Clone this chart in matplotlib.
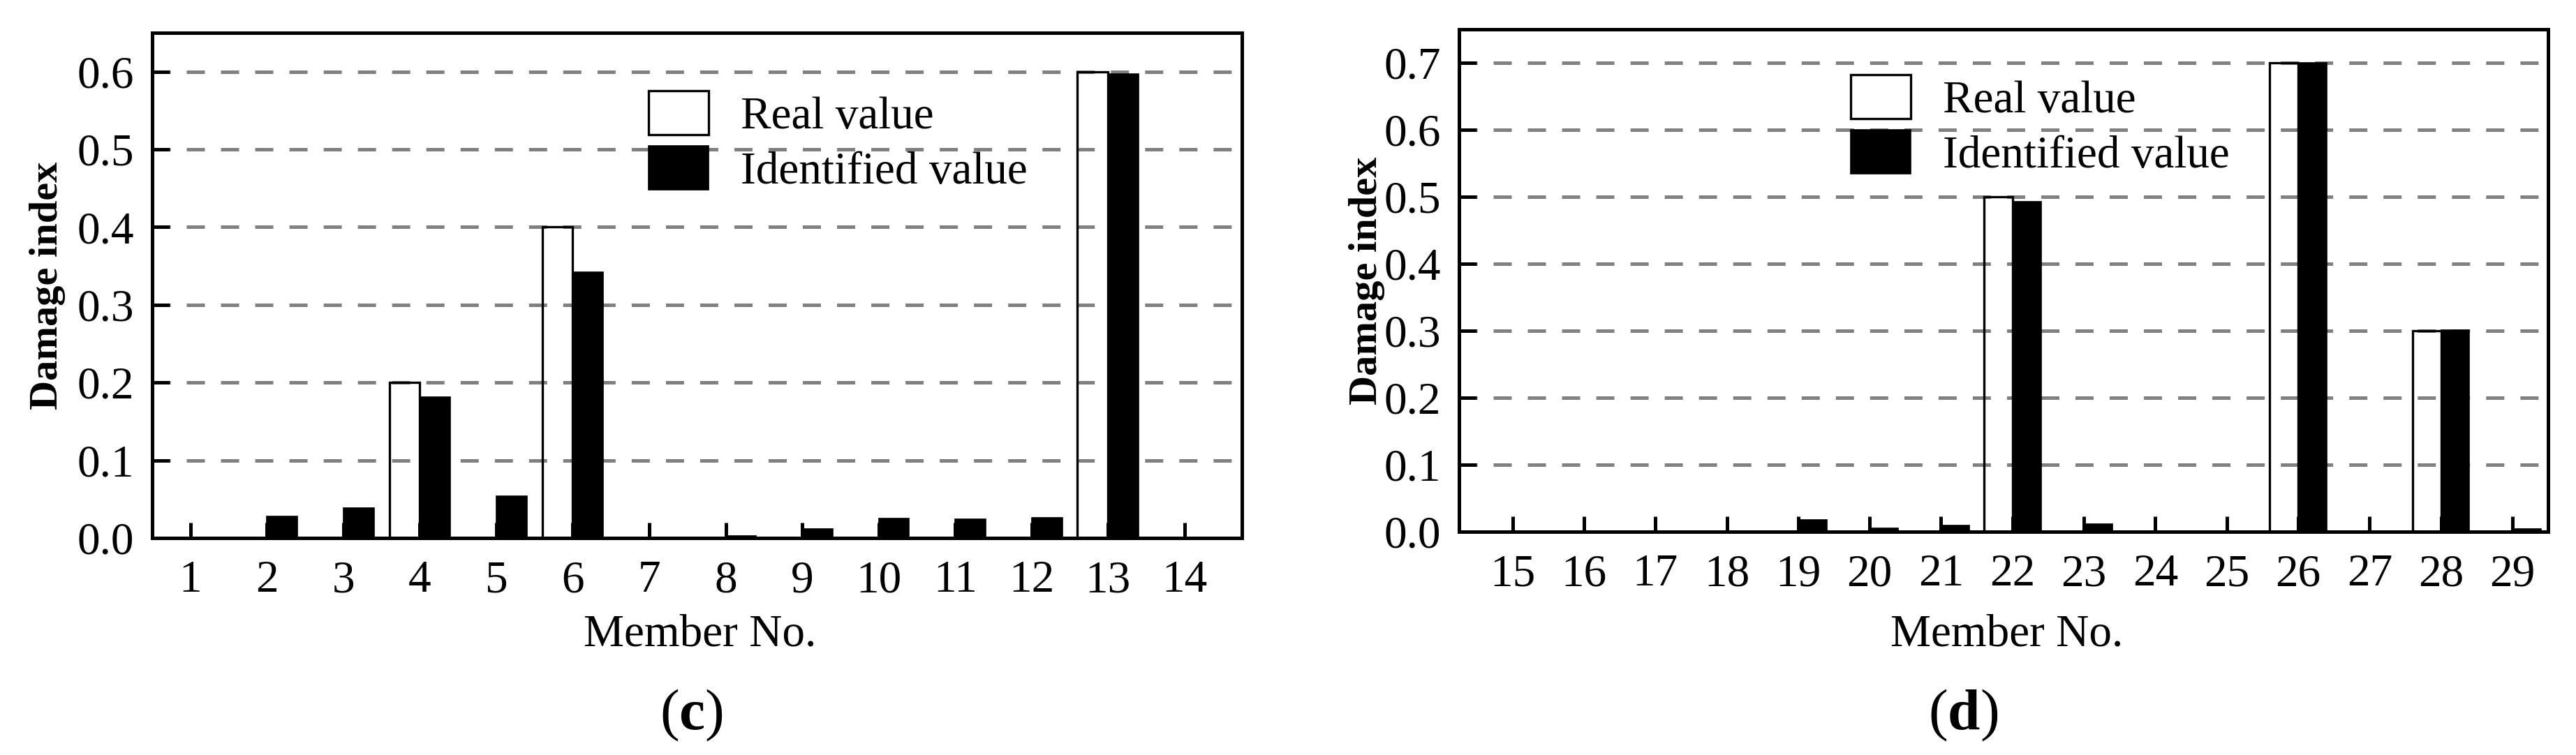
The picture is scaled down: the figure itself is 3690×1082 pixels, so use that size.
import matplotlib
matplotlib.use('Agg')
import matplotlib.pyplot as plt
import numpy as np

plt.rcParams['font.family'] = ['Liberation Serif', 'DejaVu Serif']
plt.rcParams['mathtext.fontset'] = 'custom'
plt.rcParams['mathtext.rm'] = 'Liberation Serif'
plt.rcParams['mathtext.bf'] = 'Liberation Serif:bold'
plt.rcParams['lines.scale_dashes'] = False

# ---------------- data ----------------
members_c = [1, 2, 3, 4, 5, 6, 7, 8, 9, 10, 11, 12, 13, 14]
real_c = [0, 0, 0, 0.2, 0, 0.4, 0, 0, 0, 0, 0, 0, 0.6, 0]
ident_c = [0, 0.028, 0.039, 0.181, 0.054, 0.342, 0, 0.003, 0.012, 0.025, 0.024, 0.026, 0.597, 0]

members_d = [15, 16, 17, 18, 19, 20, 21, 22, 23, 24, 25, 26, 27, 28, 29]
real_d = [0, 0, 0, 0, 0, 0, 0, 0.5, 0, 0, 0, 0.7, 0, 0.3, 0]
ident_d = [0, 0, 0, 0, 0.018, 0.005, 0.009, 0.493, 0.011, 0, 0, 0.7, 0, 0.301, 0.004]

yticks_c = [0.0, 0.1, 0.2, 0.3, 0.4, 0.5, 0.6]
yticks_d = [0.0, 0.1, 0.2, 0.3, 0.4, 0.5, 0.6, 0.7]

series_labels = ['Real value', 'Identified value']
xlabel = 'Member No.'
ylabel = 'Damage index'

# ---------------- figure ----------------
W, H = 3690, 1082
fig = plt.figure(figsize=(W / 100, H / 100), dpi=100)


def px_axes(l, t, r, b):
    return [l / W, 1 - b / H, (r - l) / W, (b - t) / H]


FS = 47
LW = 3.6


def draw(ax, members, real, ident, ylim, yticks, xlim, leg_xy):
    m = np.array(members, dtype=float)
    ax.bar(m - 0.2, real, width=0.4, facecolor='none', edgecolor='black',
           linewidth=2.4, label=series_labels[0], zorder=3)
    ax.bar(m + 0.2, ident, width=0.4, color='black', edgecolor='black',
           linewidth=1.2, label=series_labels[1], zorder=3)
    ax.set_xlim(*xlim)
    ax.set_ylim(*ylim)
    ax.set_xticks(members)
    ax.set_xticklabels([str(v) for v in members])
    ax.set_yticks(yticks)
    ax.set_yticklabels([f'{v:.1f}' for v in yticks])
    ax.set_axisbelow(True)
    ax.yaxis.grid(True, color='#808080', linewidth=LW, dashes=(18.7, 16.6))
    ax.xaxis.grid(False)
    for s in ax.spines.values():
        s.set_linewidth(LW)
        s.set_color('black')
        s.set_zorder(4)
    ax.tick_params(axis='x', direction='in', length=16, width=LW,
                   labelsize=FS, pad=23, top=False)
    ax.tick_params(axis='y', direction='in', length=18, width=LW,
                   labelsize=FS, pad=19, right=False)
    ax.legend(loc='upper left', bbox_to_anchor=(leg_xy[0] / W, 1 - leg_xy[1] / H),
              bbox_transform=fig.transFigure, frameon=False, fontsize=FS,
              handlelength=1.32, handleheight=1.1, handletextpad=0.7,
              labelspacing=0.18, borderpad=0, borderaxespad=0)


ax1 = fig.add_axes(px_axes(218, 47, 1779, 771))
ax2 = fig.add_axes(px_axes(2090, 42, 3650, 762))

draw(ax1, members_c, real_c, ident_c, (0, 0.65), yticks_c, (0.5, 14.75), (929, 130))
draw(ax2, members_d, real_d, ident_d, (0, 0.75), yticks_d, (14.25, 29.5), (2651, 107))

# axis labels
fig.text(68 / W, 1 - 409 / H, ylabel, rotation=90, ha='center', va='center',
         fontsize=42, fontweight='bold')
fig.text(1958 / W, 1 - 402 / H, ylabel, rotation=90, ha='center', va='center',
         fontsize=42, fontweight='bold')
fig.text(1003 / W, 1 - 925 / H, xlabel, ha='center', va='baseline', fontsize=FS)
fig.text(2875 / W, 1 - 925 / H, xlabel, ha='center', va='baseline', fontsize=FS)

# panel labels
fig.text(990 / W, 1 - 1025 / H, r'($\mathbf{c}$)', ha='center', va='center', fontsize=60)
fig.text(2812 / W, 1 - 1025 / H, r'($\mathbf{d}$)', ha='center', va='center', fontsize=60)

fig.savefig('out.png', dpi=100, facecolor='white')
